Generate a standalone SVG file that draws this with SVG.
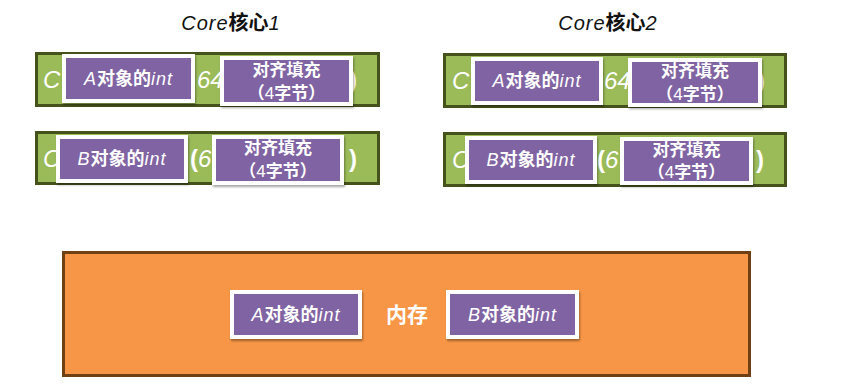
<svg xmlns="http://www.w3.org/2000/svg" width="861" height="390" viewBox="0 0 861 390">
<defs>
<filter id="sh" x="-10%" y="-10%" width="125%" height="135%">
<feDropShadow dx="1" dy="2" stdDeviation="1.2" flood-color="#000" flood-opacity="0.35"/>
</filter>
<style>
.bar{fill:#9bbb59;stroke:#46521c;stroke-width:3}
.mem{fill:#f79646;stroke:#6e4014;stroke-width:3}
.box{fill:#8064a2;stroke:#fff;stroke-width:4;filter:url(#sh)}
text{font-family:"Liberation Sans","Noto Sans CJK SC",sans-serif}
.lbl{fill:#fff;font-size:18px;font-weight:bold;text-anchor:middle}
.lat{font-style:italic;font-weight:normal;letter-spacing:1px}
.pad{fill:#fff;font-size:17px;font-weight:bold;text-anchor:middle}
.frag{fill:#fff;font-size:24px;font-style:italic}
.up{font-style:normal;font-weight:bold}
.title{fill:#111;font-size:20px;font-weight:bold;text-anchor:middle}
.mt{fill:#fff;font-size:21px;font-weight:bold;text-anchor:middle}
</style>
</defs>
<rect width="861" height="390" fill="#fff"/>
<g id="title1"><text class="title" x="231" y="30"><tspan class="lat">Core</tspan>核心<tspan class="lat">1</tspan></text></g>
<g id="title2"><text class="title" x="608" y="30"><tspan class="lat">Core</tspan>核心<tspan class="lat">2</tspan></text></g>

<g id="core1-line1">
<rect class="bar" x="36.5" y="53.5" width="342" height="52"/>
<text class="frag" x="43" y="88">C</text>
<text class="frag" x="197" y="88">64</text>
<text class="frag up" x="349" y="88">)</text>
<g id="c1-a"><rect class="box" x="64" y="56" width="129" height="45"/><text class="lbl" x="128.5" y="85"><tspan class="lat">A</tspan>对象的<tspan class="lat">int</tspan></text></g>
<g id="c1-pad1"><rect class="box" x="222" y="58" width="129" height="46"/><text class="pad" x="286.5" y="76">对齐填充</text><text class="pad" x="286.5" y="99">（<tspan font-weight="normal">4</tspan>字节）</text></g>
</g>

<g id="core1-line2">
<rect class="bar" x="36.5" y="132.5" width="342" height="51"/>
<text class="frag" x="43" y="167">C</text>
<text class="frag" x="190" y="167"><tspan class="up">(</tspan>6</text>
<text class="frag up" x="349" y="167">)</text>
<g id="c1-b"><rect class="box" x="58" y="137" width="128" height="44"/><text class="lbl" x="122" y="165"><tspan class="lat">B</tspan>对象的<tspan class="lat">int</tspan></text></g>
<g id="c1-pad2"><rect class="box" x="214" y="137" width="128" height="46"/><text class="pad" x="278" y="154">对齐填充</text><text class="pad" x="278" y="177">（<tspan font-weight="normal">4</tspan>字节）</text></g>
</g>

<g id="core2-line1">
<rect class="bar" x="444.5" y="54.5" width="341" height="52"/>
<text class="frag" x="452" y="89">C</text>
<text class="frag" x="604" y="89">64</text>
<text class="frag up" x="757" y="89">)</text>
<g id="c2-a"><rect class="box" x="473" y="59" width="128" height="44"/><text class="lbl" x="537" y="87"><tspan class="lat">A</tspan>对象的<tspan class="lat">int</tspan></text></g>
<g id="c2-pad1"><rect class="box" x="630" y="60" width="130" height="45"/><text class="pad" x="695" y="77">对齐填充</text><text class="pad" x="695" y="100">（<tspan font-weight="normal">4</tspan>字节）</text></g>
</g>

<g id="core2-line2">
<rect class="bar" x="444.5" y="133.5" width="341" height="52"/>
<text class="frag" x="452" y="168">C</text>
<text class="frag" x="597" y="168"><tspan class="up">(</tspan>6</text>
<text class="frag up" x="756" y="168">)</text>
<g id="c2-b"><rect class="box" x="467" y="138" width="128" height="44"/><text class="lbl" x="531" y="166"><tspan class="lat">B</tspan>对象的<tspan class="lat">int</tspan></text></g>
<g id="c2-pad2"><rect class="box" x="622" y="139" width="129" height="44"/><text class="pad" x="686.5" y="156">对齐填充</text><text class="pad" x="686.5" y="178">（<tspan font-weight="normal">4</tspan>字节）</text></g>
</g>

<g id="memory">
<rect class="mem" x="63.5" y="252.5" width="686" height="123"/>
<text class="mt" x="407" y="322">内存</text>
<g id="mem-a"><rect class="box" x="232" y="292" width="128" height="45"/><text class="lbl" x="296" y="321"><tspan class="lat">A</tspan>对象的<tspan class="lat">int</tspan></text></g>
<g id="mem-b"><rect class="box" x="448" y="292" width="129" height="45"/><text class="lbl" x="512.5" y="321"><tspan class="lat">B</tspan>对象的<tspan class="lat">int</tspan></text></g>
</g>
<g id="connectors"/>
</svg>
